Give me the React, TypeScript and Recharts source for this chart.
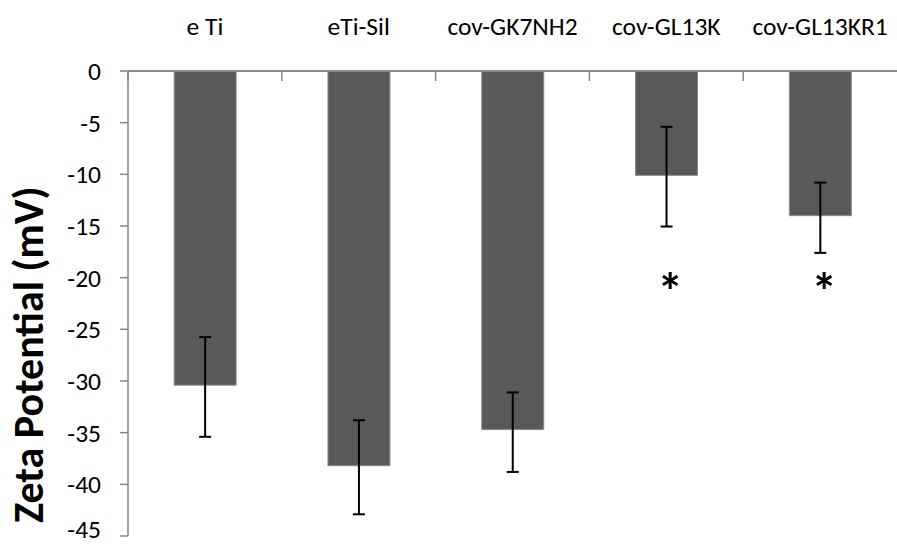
import {
  ComposedChart,
  Bar,
  Line,
  XAxis,
  YAxis,
  ErrorBar,
} from 'recharts';

const CATEGORIES = ['e Ti', 'eTi-Sil', 'cov-GK7NH2', 'cov-GL13K', 'cov-GL13KR1'];
const ZETA = [-30.4, -38.2, -34.7, -10.1, -14.0];
// error extent below / above the bar value (mV)
const ERR_LOW = [5.0, 4.7, 4.1, 4.95, 3.6];
const ERR_HIGH = [4.65, 4.4, 3.6, 4.7, 3.2];
// significance markers (y position of the asterisk, null = none)
const STARS: (number | null)[] = [null, null, null, -20.6, -20.6];
const Y_TICKS = [0, -5, -10, -15, -20, -25, -30, -35, -40, -45];

const FONT = 'Carlito, Calibri, Lato, sans-serif';
const AXIS_GREY = '#868686';

const data = CATEGORIES.map((name, i) => ({
  name,
  zeta: ZETA[i],
  err: [ERR_LOW[i], ERR_HIGH[i]],
  star: STARS[i],
}));

function CategoryTick(props: any) {
  const { x, y, payload, width } = props;
  const half = payload.offset ?? width / CATEGORIES.length / 2;
  return (
    <g>
      <line x1={x - half} y1={y} x2={x - half} y2={y + 10} stroke={AXIS_GREY} strokeWidth={1.5} />
      <text x={x} y={y - 36} textAnchor="middle" fontSize={25.5} fontFamily={FONT} fill="#000">
        {payload.value}
      </text>
    </g>
  );
}

function StarDot(props: any) {
  const { cx, cy, value, index } = props;
  if (value == null || cy == null) return <g key={`s-${index}`} />;
  return (
    <text
      key={`s-${index}`}
      x={cx + 4}
      y={cy + 26}
      textAnchor="middle"
      fontSize={52}
      fontWeight="bold"
      fontFamily={FONT}
      fill="#000"
    >
      *
    </text>
  );
}

function YTitle(props: any) {
  const vb = props.viewBox;
  const cx = vb.x + 29;
  const cy = vb.y + vb.height * 0.61;
  return (
    <text
      x={cx}
      y={cy}
      transform={`rotate(-90, ${cx}, ${cy})`}
      textAnchor="middle"
      dominantBaseline="central"
      fontSize={42}
      fontWeight="bold"
      fontFamily={FONT}
      fill="#000"
    >
      Zeta Potential (mV)
    </text>
  );
}

export default function App() {
  return (
    <div style={{ position: 'absolute', left: 0, top: 0, background: '#fff' }}>
      <ComposedChart
        width={897}
        height={544}
        data={data}
        margin={{ top: 0, right: 0, bottom: 8, left: 0 }}
        barCategoryGap="30%"
      >
        <XAxis
          dataKey="name"
          orientation="top"
          height={71}
          tickSize={0}
          tickMargin={0}
          tickLine={false}
          axisLine={{ stroke: AXIS_GREY, strokeWidth: 2 }}
          tick={<CategoryTick />}
          interval={0}
        />
        <YAxis
          width={128}
          domain={[-45, 0]}
          ticks={Y_TICKS}
          allowDataOverflow
          tickSize={8}
          tickMargin={19}
          axisLine={{ stroke: AXIS_GREY, strokeWidth: 1.5 }}
          tickLine={{ stroke: AXIS_GREY, strokeWidth: 1.5 }}
          tick={{ fontSize: 25.5, fontFamily: FONT, fill: '#000' }}
          label={<YTitle />}
        />
        <Bar
          dataKey="zeta"
          fill="#595959"
          stroke="#8c8c8c"
          strokeWidth={1}
          isAnimationActive={false}
        >
          <ErrorBar dataKey="err" width={6} stroke="#000" strokeWidth={2} direction="y" />
        </Bar>
        <Line
          dataKey="star"
          stroke="none"
          isAnimationActive={false}
          dot={<StarDot />}
          activeDot={false}
        />
      </ComposedChart>
    </div>
  );
}
